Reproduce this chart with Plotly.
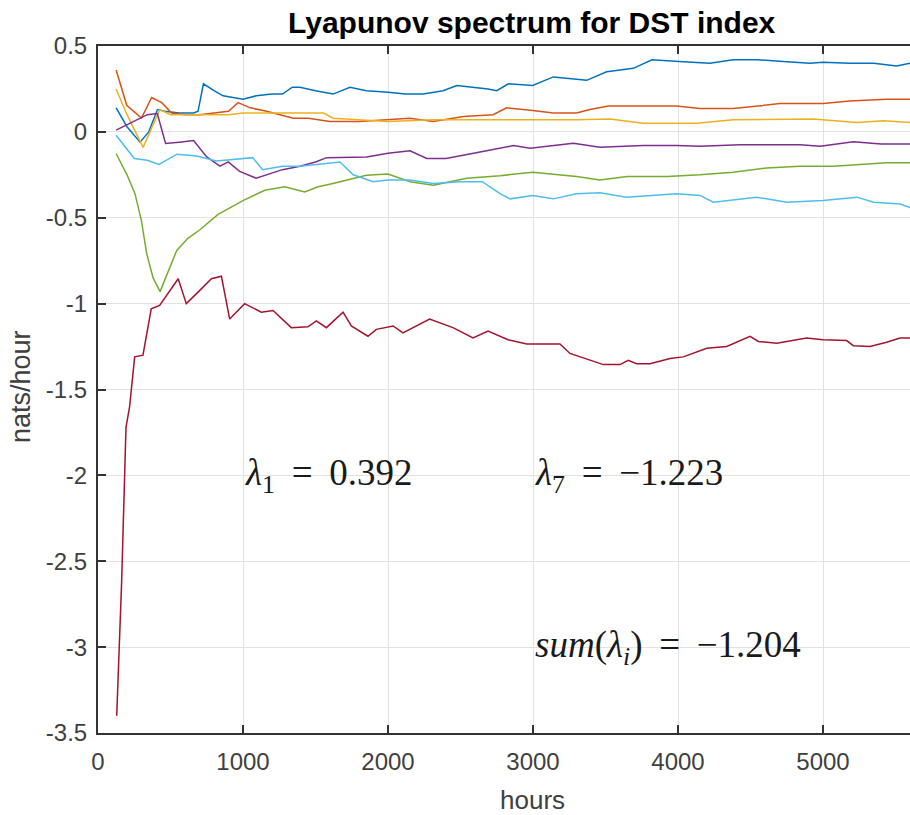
import plotly.graph_objects as go

# ---------------- data ----------------
hours_l1 = [125, 200, 290, 350, 410, 460, 560, 660, 690, 727, 800, 863, 1000, 1091, 1200, 1272, 1340,
            1393, 1500, 1621, 1738, 1850, 2000, 2120, 2242, 2380, 2474, 2600, 2690, 2750, 2830, 2998,
            3140, 3370, 3508, 3692, 3820, 4007, 4220, 4381, 4550, 4726, 4910, 5000, 5184, 5350, 5508, 5600]
lam1 = [0.14, 0.03, -0.06, 0.0, 0.13, 0.12, 0.11, 0.11, 0.12, 0.28, 0.24, 0.21, 0.19, 0.21, 0.22, 0.22, 0.26,
        0.26, 0.24, 0.22, 0.26, 0.24, 0.23, 0.22, 0.22, 0.24, 0.27, 0.26, 0.25, 0.24, 0.28, 0.27,
        0.32, 0.30, 0.35, 0.37, 0.42, 0.41, 0.40, 0.42, 0.42, 0.41, 0.40, 0.405, 0.40, 0.40, 0.383, 0.40]

hours_l2 = [125, 198, 300, 370, 440, 508, 600, 700, 800, 900, 966, 1050, 1163, 1250, 1347, 1450, 1600,
            1800, 2000, 2150, 2313, 2520, 2725, 2818, 2998, 3140, 3300, 3393, 3520, 3760, 3990, 4152,
            4381, 4550, 4703, 5000, 5184, 5439, 5600]
lam2 = [0.36, 0.155, 0.08, 0.20, 0.17, 0.11, 0.10, 0.10, 0.11, 0.12, 0.17, 0.14, 0.12, 0.10, 0.08, 0.08, 0.06,
        0.06, 0.07, 0.08, 0.06, 0.09, 0.10, 0.14, 0.125, 0.11, 0.11, 0.13, 0.15, 0.15, 0.15, 0.136,
        0.136, 0.15, 0.165, 0.165, 0.18, 0.19, 0.19]

hours_l3 = [125, 200, 311, 427, 500, 600, 700, 800, 900, 1000, 1200, 1393, 1555, 1621, 1800, 2000, 2313,
            2560, 2841, 3000, 3300, 3531, 3760, 4128, 4381, 4933, 5234, 5416, 5600]
lam3 = [0.25, 0.10, -0.09, 0.13, 0.10, 0.10, 0.10, 0.10, 0.10, 0.11, 0.11, 0.11, 0.11, 0.08, 0.07, 0.06, 0.07,
        0.07, 0.068, 0.07, 0.07, 0.075, 0.05, 0.05, 0.07, 0.075, 0.055, 0.065, 0.055]

hours_l4 = [125, 250, 340, 409, 466, 560, 659, 750, 841, 898, 977, 1091, 1272, 1393, 1500, 1577, 1700, 1853,
            2000, 2152, 2267, 2400, 2590, 2865, 2980, 3278, 3462, 3760, 3990, 4152, 4428, 4842, 4980,
            5210, 5400, 5600]
lam4 = [0.01, 0.06, 0.10, 0.107, -0.068, -0.06, -0.05, -0.146, -0.20, -0.175, -0.23, -0.27, -0.22, -0.20,
        -0.175, -0.15, -0.15, -0.146, -0.125, -0.11, -0.155, -0.155, -0.125, -0.08, -0.096, -0.066,
        -0.09, -0.08, -0.08, -0.083, -0.075, -0.075, -0.083, -0.058, -0.07, -0.07]

hours_l5 = [125, 200, 255, 300, 336, 380, 428, 470, 543, 620, 703, 828, 1000, 1150, 1288, 1426, 1518, 1621,
            1850, 2000, 2152, 2313, 2543, 2773, 2998, 3300, 3462, 3650, 3925, 4152, 4381, 4611, 4841,
            5071, 5301, 5439, 5600]
lam5 = [-0.126, -0.25, -0.36, -0.52, -0.71, -0.85, -0.93, -0.84, -0.69, -0.62, -0.57, -0.48, -0.40, -0.34,
        -0.32, -0.35, -0.32, -0.30, -0.253, -0.245, -0.29, -0.31, -0.27, -0.255, -0.235, -0.26, -0.28,
        -0.26, -0.26, -0.25, -0.235, -0.21, -0.20, -0.20, -0.185, -0.18, -0.18]

hours_l6 = [125, 250, 340, 420, 545, 681, 817, 1000, 1067, 1135, 1271, 1393, 1500, 1669, 1760, 1897, 2000,
            2150, 2313, 2497, 2650, 2773, 2842, 2998, 3140, 3300, 3462, 3645, 3990, 4152, 4244, 4543,
            4750, 5000, 5234, 5350, 5532, 5600]
lam6 = [-0.02, -0.155, -0.165, -0.19, -0.13, -0.14, -0.17, -0.155, -0.15, -0.22, -0.20, -0.20, -0.19,
        -0.175, -0.25, -0.29, -0.28, -0.28, -0.30, -0.29, -0.29, -0.36, -0.39, -0.37, -0.39, -0.36,
        -0.355, -0.38, -0.36, -0.37, -0.41, -0.38, -0.41, -0.40, -0.38, -0.41, -0.42, -0.44]

hours_l7 = [129, 163, 193, 218, 253, 310, 367, 425, 553, 609, 690, 782, 851, 908, 1011, 1126, 1207, 1333,
            1448, 1506, 1575, 1690, 1747, 1862, 1920, 2035, 2103, 2287, 2448, 2586, 2690, 2828, 2957,
            3186, 3255, 3485, 3600, 3657, 3714, 3807, 3945, 4037, 4198, 4336, 4497, 4554, 4681, 4887,
            5000, 5163, 5209, 5324, 5439, 5531, 5600]
lam7 = [-3.40, -2.62, -1.72, -1.60, -1.31, -1.30, -1.03, -1.01, -0.855, -1.0, -0.933, -0.855, -0.84, -1.09,
        -1.0, -1.05, -1.04, -1.14, -1.135, -1.10, -1.14, -1.05, -1.13, -1.19, -1.15, -1.13, -1.17, -1.09,
        -1.14, -1.20, -1.16, -1.21, -1.235, -1.235, -1.29, -1.355, -1.355, -1.33, -1.35, -1.35, -1.32,
        -1.31, -1.26, -1.25, -1.19, -1.22, -1.23, -1.20, -1.21, -1.215, -1.245, -1.25, -1.225, -1.20, -1.20]

series_hours = [hours_l1, hours_l2, hours_l3, hours_l4, hours_l5, hours_l6, hours_l7]
series_vals = [lam1, lam2, lam3, lam4, lam5, lam6, lam7]
colors = ["#0072BD", "#D95319", "#EDB120", "#7E2F8E", "#77AC30", "#4DBEEE", "#A2142F"]

x_ticks = [0, 1000, 2000, 3000, 4000, 5000]
y_ticks = [0.5, 0, -0.5, -1, -1.5, -2, -2.5, -3, -3.5]
y_ticktext = ["0.5", "0", "-0.5", "-1", "-1.5", "-2", "-2.5", "-3", "-3.5"]

title_text = "Lyapunov spectrum for DST index"
x_label = "hours"
y_label = "nats/hour"
eq_sp = " \u2009=\u2009 "
text_l1 = "<i>λ</i><sub>1</sub>" + eq_sp + "0.392"
text_l7 = "<i>λ</i><sub>7</sub>" + eq_sp + "−1.223"
text_sum = "<i>sum</i>(<i>λ</i><sub><i>i</i></sub>)" + eq_sp + "−1.204"

# ---------------- figure ----------------
fig = go.Figure()
for hx, vals, col in zip(series_hours, series_vals, colors):
    fig.add_trace(go.Scatter(x=hx, y=vals, mode="lines",
                             line=dict(color=col, width=1.5), showlegend=False))

axis_col = "#404040"
sans = "Liberation Sans, Arial, Helvetica, sans-serif"
serif = "Liberation Serif, Times New Roman, serif"

fig.update_layout(
    width=910, height=815,
    margin=dict(l=98, r=0, t=46, b=82),
    paper_bgcolor="white", plot_bgcolor="white",
    font=dict(family=sans, color=axis_col),
)
fig.update_xaxes(range=[0, 5600], tickvals=x_ticks, ticks="inside", ticklen=8, tickwidth=2,
                 tickcolor="#333333", showline=True, linecolor="#333333", linewidth=2,
                 mirror="ticks", showgrid=True, gridcolor="#e2e2e2", gridwidth=1,
                 zeroline=False, tickfont=dict(size=24, color=axis_col), ticklabelstandoff=6)
fig.update_yaxes(range=[-3.5, 0.5], tickvals=y_ticks, ticktext=y_ticktext, ticks="inside",
                 ticklen=8, tickwidth=2, tickcolor="#333333", showline=True, linecolor="#333333",
                 linewidth=2, showgrid=True, gridcolor="#e2e2e2", gridwidth=1, zeroline=False,
                 tickfont=dict(size=24, color=axis_col), ticklabelstandoff=4)

ann = []
ann.append(dict(text="<b>" + title_text + "</b>", xref="paper", yref="paper", x=0.5345, y=1.034,
                xanchor="center", yanchor="middle", showarrow=False,
                font=dict(family=sans, size=30, color="black")))
ann.append(dict(text=x_label, xref="paper", yref="paper", x=0.5357, y=-0.097,
                xanchor="center", yanchor="middle", showarrow=False,
                font=dict(family=sans, size=26, color=axis_col)))
ann.append(dict(text=y_label, xref="paper", yref="paper", x=-0.094, y=0.5045, textangle=-90,
                xanchor="center", yanchor="middle", showarrow=False,
                font=dict(family=sans, size=27, color=axis_col)))
math_font = dict(family=serif, size=37, color="#1a1a1a")
ann.append(dict(text=text_l1, x=1000, y=-2, xref="x", yref="y",
                xanchor="left", yanchor="middle", showarrow=False, font=math_font))
ann.append(dict(text=text_l7, x=3000, y=-2, xref="x", yref="y",
                xanchor="left", yanchor="middle", showarrow=False, font=math_font))
ann.append(dict(text=text_sum, x=3000, y=-3, xref="x", yref="y",
                xanchor="left", yanchor="middle", showarrow=False, font=math_font))
fig.update_layout(annotations=ann)

fig.write_html("out.html")
